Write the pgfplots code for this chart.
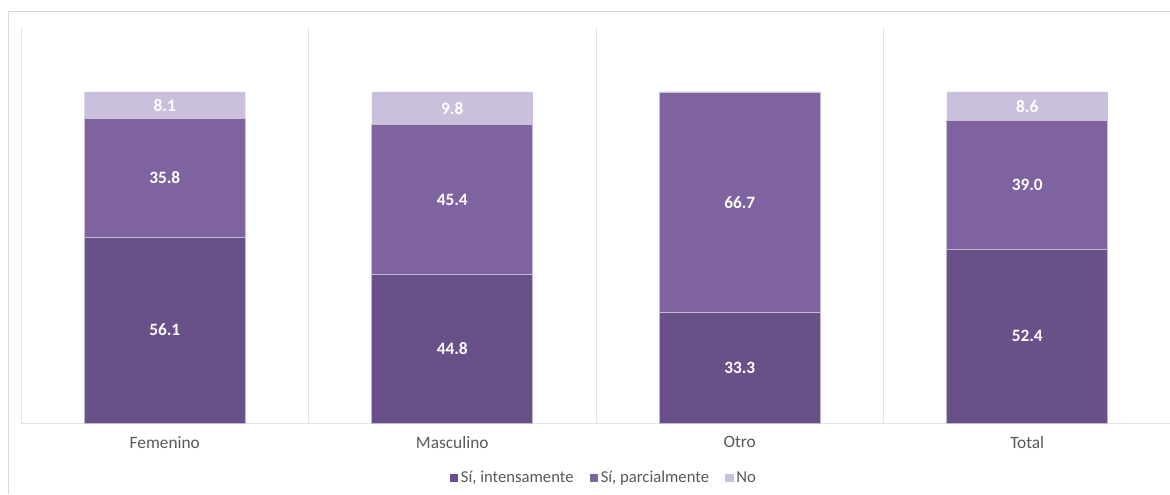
\documentclass[border=0pt]{standalone}
\usepackage{pgfplots}
\pgfplotsset{compat=1.18}
\usepackage{fontspec}
\setmainfont{Carlito}
\definecolor{cdark}{HTML}{6A5088}
\definecolor{cmid}{HTML}{7F63A1}
\definecolor{clight}{HTML}{CBC0DB}
\definecolor{gridc}{HTML}{E3E3E3}
\definecolor{framec}{HTML}{D9D9D9}
\definecolor{txt}{HTML}{595959}
\begin{document}
\begin{tikzpicture}
\useasboundingbox (0pt,0pt) rectangle (877.5pt,370.5pt);
\fill[white] (0pt,0pt) rectangle (877.5pt,370.5pt);
\draw[framec, line width=0.75pt] (6pt,0pt) -- (6pt,361.5pt) -- (877.5pt,361.5pt);
\begin{axis}[
  at={(15.75pt,53.25pt)}, anchor=south west,
  scale only axis, width=862.5pt, height=296.25pt,
  ybar stacked, bar width=120.75pt,
  xmin=-0.5, xmax=3.5, ymin=0, ymax=119.3,
  axis line style={draw=none},
  xtick=data, xticklabels={Femenino,Masculino,Otro,Total},
  x tick label style={text=txt, font=\fontsize{13}{15}\selectfont, yshift=-6.5pt},
  major tick length=0pt,
  ytick=\empty,
  extra x ticks={-0.5,0.5,1.5,2.5}, extra x tick labels={},
  extra x tick style={grid=major, major grid style={gridc, line width=0.75pt}},
  legend style={at={(0.507,-0.139)}, anchor=center, draw=none, fill=none,
    legend columns=3, font=\fontsize{12.5}{14}\selectfont, text=txt,
    /tikz/every even column/.append style={column sep=10pt}},
  legend cell align=left,
  legend image code/.code={\fill[#1, draw=none] (0pt,-3.2pt) rectangle (6.4pt,3.2pt);},
  clip=false,
]
\addplot[fill=cdark, draw=white!60!cdark, line width=0.6pt] coordinates {(0,56.1) (1,44.8) (2,33.3) (3,52.4)};
\addplot[fill=cmid, draw=white!60!cmid, line width=0.6pt] coordinates {(0,35.8) (1,45.4) (2,66.7) (3,39.0)};
\addplot[fill=clight, draw=none] coordinates {(0,8.1) (1,9.8) (2,0) (3,8.6)};
\legend{{Sí, intensamente},{Sí, parcialmente},{No}}
\draw[gridc, line width=0.75pt] (axis cs:-0.5,0) -- (axis cs:3.5,0);
\end{axis}
\begin{axis}[
  at={(15.75pt,53.25pt)}, anchor=south west,
  scale only axis, width=862.5pt, height=296.25pt,
  xmin=-0.5, xmax=3.5, ymin=0, ymax=119.3,
  axis lines=none, ticks=none,
]
\addplot[only marks, mark=none, nodes near coords, point meta=explicit symbolic,
  nodes near coords style={anchor=center, text=white, font=\fontsize{13}{15}\selectfont\bfseries}]
  coordinates {
  (0,28.05)[56.1] (0,74.0)[35.8] (0,95.95)[8.1]
  (1,22.4)[44.8] (1,67.5)[45.4] (1,95.1)[9.8]
  (2,16.65)[33.3] (2,66.65)[66.7]
  (3,26.2)[52.4] (3,71.9)[39.0] (3,95.7)[8.6]
  };
\end{axis}
\end{tikzpicture}
\end{document}
